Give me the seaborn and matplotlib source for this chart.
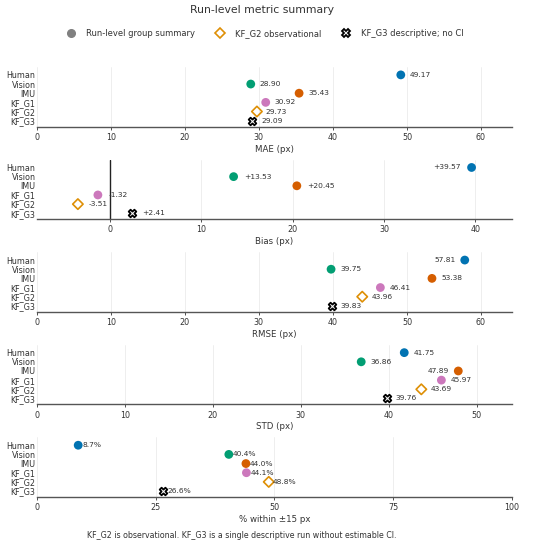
import numpy as np
import pandas as pd
import matplotlib
matplotlib.use("Agg")
import matplotlib.pyplot as plt
from matplotlib.lines import Line2D
import seaborn as sns

groups = ["Human", "Vision", "IMU", "KF_G1", "KF_G2", "KF_G3"]
mae = [49.17, 28.90, 35.43, 30.92, 29.73, 29.09]
bias = [39.57, 13.53, 20.45, -1.32, -3.51, 2.41]
rmse = [57.81, 39.75, 53.38, 46.41, 43.96, 39.83]
std = [41.75, 36.86, 47.89, 45.97, 43.69, 39.76]
pct15 = [8.7, 40.4, 44.0, 44.1, 48.8, 26.6]

sns.set_theme(style="white")
plt.rcParams['font.family'] = ['DejaVu Sans']

pal = sns.color_palette("colorblind")
colors = {"Human": pal[0], "Vision": pal[2], "IMU": pal[3], "KF_G1": pal[4]}
kf2_color = pal[1]

panels = [
    ("MAE (px)", mae, (0, 64.2), [0, 10, 20, 30, 40, 50, 60], "{:.2f}", 6.5),
    ("Bias (px)", bias, (-8, 44), [0, 10, 20, 30, 40], "{:+.2f}", 7.5),
    ("RMSE (px)", rmse, (0, 64.2), [0, 10, 20, 30, 40, 50, 60], "{:.2f}", 6.5),
    ("STD (px)", std, (0, 54), [0, 10, 20, 30, 40, 50], "{:.2f}", 6.5),
    ("% within \u00b115 px", pct15, (0, 100), [0, 25, 50, 75, 100], "{:.1f}%", 3),
]

fig, axes = plt.subplots(5, 1, figsize=(5.5, 5.44), dpi=100)
fig.subplots_adjust(left=0.067, right=0.931, top=0.877, bottom=0.0864, hspace=0.55)

for ax, (label, vals, xlim, ticks, fmt, off) in zip(axes, panels):
    df = pd.DataFrame({"group": groups, "value": vals})
    main = df[df.group.isin(colors.keys())]
    sns.scatterplot(data=main, x="value", y="group", hue="group", palette=colors,
                    s=40, edgecolor="none", legend=False, ax=ax, zorder=3)
    g2 = df[df.group == "KF_G2"]
    sns.scatterplot(data=g2, x="value", y="group", marker="D", s=28,
                    facecolors="none", edgecolor=kf2_color, linewidth=1.2,
                    legend=False, ax=ax, zorder=3)
    g3 = df[df.group == "KF_G3"]
    sns.scatterplot(data=g3, x="value", y="group", marker="X", s=30,
                    color="white", edgecolor="black", linewidth=1.3,
                    legend=False, ax=ax, zorder=3)

    for i, v in enumerate(vals):
        frac = (v - xlim[0]) / (xlim[1] - xlim[0])
        if frac > 0.87:
            ax.annotate(fmt.format(v), (v, i), xytext=(-off, 0), textcoords="offset points",
                        ha="right", va="center", fontsize=5.4, color="#333333")
        else:
            ax.annotate(fmt.format(v), (v, i), xytext=(off, 0), textcoords="offset points",
                        ha="left", va="center", fontsize=5.4, color="#333333")

    if label.startswith("Bias"):
        ax.axvline(0, color="#222222", lw=1.0, zorder=2)

    ax.set_xlim(*xlim)
    ax.set_xticks(ticks)
    ax.set_ylim(5.65, -0.87)
    ax.set_xlabel(label, fontsize=6.2, color="#333333", labelpad=2)
    ax.set_ylabel("")
    ax.grid(axis="x", color="#ebebeb", lw=0.6)
    ax.set_axisbelow(True)
    sns.despine(ax=ax, left=True)
    ax.spines["bottom"].set_color("#555555")
    ax.spines["bottom"].set_linewidth(1.0)
    ax.tick_params(axis="x", labelsize=5.8, colors="#333333", length=2.5, width=0.6, pad=2,
                   bottom=True)
    ax.tick_params(axis="y", labelsize=5.8, colors="#333333", length=0, pad=1)

fig.text(0.476, 0.981, "Run-level metric summary", ha="center", va="center",
         fontsize=7.8, color="#333333")

handles = [
    Line2D([], [], marker="o", ls="none", color="gray", markersize=5.5),
    Line2D([], [], marker="D", ls="none", markerfacecolor="none",
           markeredgecolor=kf2_color, markeredgewidth=1.2, markersize=5),
    Line2D([], [], marker="X", ls="none", markerfacecolor="white",
           markeredgecolor="black", markeredgewidth=1.3, markersize=5.5),
]
fig.legend(handles, ["Run-level group summary", "KF_G2 observational", "KF_G3 descriptive; no CI"],
           loc="center", bbox_to_anchor=(0.478, 0.939), ncol=3, frameon=False,
           fontsize=6, handletextpad=0.8, columnspacing=2.0, labelcolor="#333333")

fig.text(0.44, 0.016, "KF_G2 is observational. KF_G3 is a single descriptive run without estimable CI.",
         ha="center", va="center", fontsize=5.7, color="#333333")

fig.savefig("out.png", dpi=100)
